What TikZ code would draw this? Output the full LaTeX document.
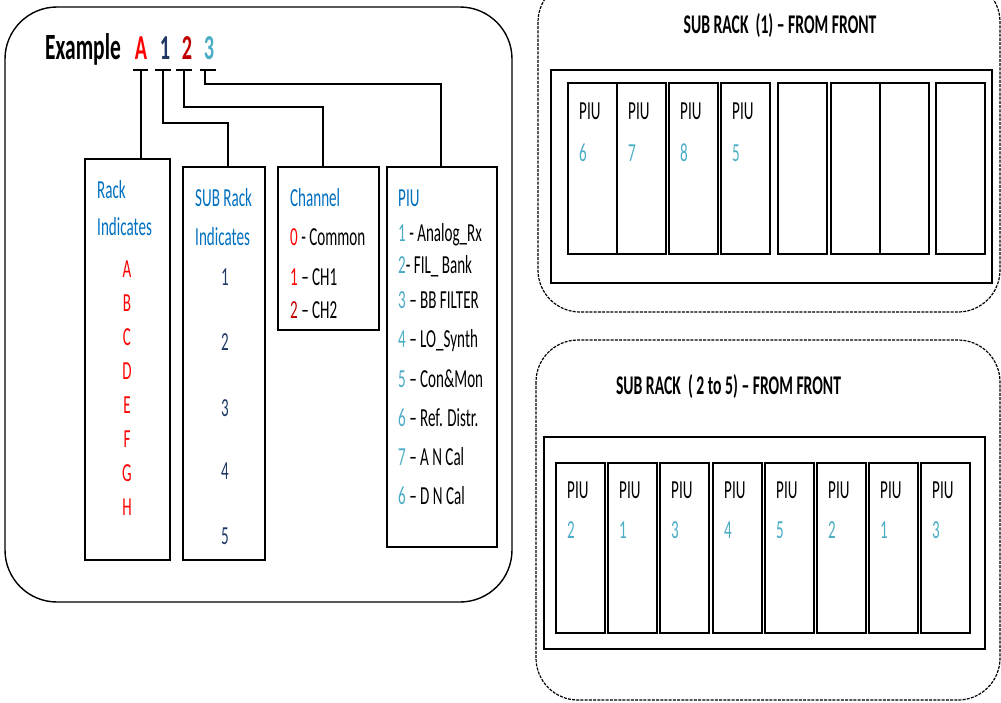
\documentclass[tikz,border=0pt]{standalone}
\usepackage{fontspec}
\setmainfont{Carlito}[FakeStretch=0.58]
\definecolor{headblue}{HTML}{0070C0}
\definecolor{codered}{HTML}{FF0000}
\definecolor{darkred}{HTML}{C00000}
\definecolor{navy}{HTML}{1F3864}
\definecolor{piublue}{HTML}{4BACC6}

\begin{document}
\begin{tikzpicture}[x=1pt,y=-1pt,font=\fontsize{26}{30}\selectfont]
    \tikzset{
        box/.style={draw,line width=1.8pt,inner sep=0pt,outer sep=0pt},
        txt/.style={inner sep=0pt,anchor=base west},
        mid/.style={inner sep=0pt,anchor=base},
        link/.style={line width=1.4pt},
        panel/.style={draw,line width=1.2pt,dash pattern=on 3pt off 1.2pt,
            rounded corners=42pt},
        slot/.style={box,minimum width=49pt},
        title/.style={inner sep=0pt,anchor=base,font=\fontsize{27}{30}\selectfont\bfseries}
    }
    \useasboundingbox (0,0) rectangle (1001,702);

    \draw[line width=1.4pt,rounded corners=52pt] (5,7) rectangle (512,602);

    \node[txt,font=\fontsize{37}{40}\selectfont\bfseries] (example) at (45,59) {Example};
    \node[mid,font=\fontsize{35}{40}\selectfont\bfseries,text=codered] (code-rack) at (141,59) {A};
    \node[mid,font=\fontsize{35}{40}\selectfont\bfseries,text=navy] (code-sub) at (165,59) {1};
    \node[mid,font=\fontsize{35}{40}\selectfont\bfseries,text=darkred] (code-chan) at (187,59) {2};
    \node[mid,font=\fontsize{35}{40}\selectfont\bfseries,text=piublue] (code-piu) at (209,59) {3};

    \coordinate (tick-rack) at (141,70);
    \coordinate (tick-sub) at (163,70);
    \coordinate (tick-chan) at (184,70);
    \coordinate (tick-piu) at (205,70);
    \draw[link] (133,70) -- (148,70) (155,70) -- (171,70)
        (176,70) -- (192,70) (200,70) -- (216,70);

    \node[box,minimum width=85pt,minimum height=401pt] (rack) at (127.5,359.5) {};
    \node[box,minimum width=82pt,minimum height=393pt] (subrack) at (224,363.5) {};
    \node[box,minimum width=101pt,minimum height=163pt] (channel) at (328.5,248.5) {};
    \node[box,minimum width=110pt,minimum height=380pt] (piu) at (442,357) {};

    \draw[link] (tick-rack) -- (tick-rack |- rack.north);
    \draw[link] (tick-sub) -- ++(0,53) -| ([xshift=4pt]subrack.north);
    \draw[link] (tick-chan) -- ++(0,37) -| ([xshift=-5.5pt]channel.north);
    \draw[link] (tick-piu) -- ++(0,14) -| ([xshift=-1pt]piu.north);

    \node[txt,text=headblue] (rack-head) at (97,198) {Rack};
    \node[txt,text=headblue] (rack-ind) at (97,235) {Indicates};
    \foreach \ltr [count=\i] in {A,B,C,D,E,F,G,H}
        \node[mid,text=codered] (rack-\ltr) at (127,{277+34*(\i-1)}) {\ltr};

    \node[txt,text=headblue] (sub-head) at (195,206) {SUB Rack};
    \node[txt,text=headblue] (sub-ind) at (195,245) {Indicates};
    \foreach \num/\yy in {1/285,2/350,3/416,4/479,5/544}
        \node[mid,text=navy] (sub-\num) at (225,\yy) {\num};

    \node[txt,text=headblue] (chan-head) at (290,206) {Channel};
    \node[txt] (chan-0) at (290,245) {\textcolor{codered}{0} - Common};
    \node[txt] (chan-1) at (290,285) {\textcolor{codered}{1} – CH1};
    \node[txt] (chan-2) at (290,318) {\textcolor{darkred}{2} – CH2};

    \node[txt,text=headblue] (piu-head) at (398,206) {PIU};
    \node[txt] (piu-1) at (398,241) {\textcolor{piublue}{1} - Analog\_Rx};
    \node[txt] (piu-2) at (398,273) {\textcolor{piublue}{2}- FIL\_ Bank};
    \node[txt] (piu-3) at (398,308) {\textcolor{piublue}{3} – BB FILTER};
    \node[txt] (piu-4) at (398,347) {\textcolor{piublue}{4} – LO\_Synth};
    \node[txt] (piu-5) at (398,387) {\textcolor{piublue}{5} – Con\&Mon};
    \node[txt] (piu-6) at (398,426) {\textcolor{piublue}{6} – Ref. Distr.};
    \node[txt] (piu-7) at (398,465) {\textcolor{piublue}{7} – A N Cal};
    \node[txt] (piu-8) at (398,504) {\textcolor{piublue}{6} – D N Cal};

    \draw[panel] (538,-20) rectangle (1000,312);
    \node[title] (front-1) at (780,33) {SUB RACK\ \ (1) – FROM FRONT};
    \node[box,minimum width=441pt,minimum height=213pt] (frame-1) at (771.5,176.5) {};
    \foreach \sx [count=\i] in {568,617,669,721,778,831,880,936}
        \node[slot,minimum height=171pt] (top-slot\i) at (\sx+24.5,168.5) {};
    \foreach \sx/\num [count=\i] in {568/6,617/7,669/8,721/5}{
        \node[txt] (top-piu\i) at (\sx+11,119) {PIU};
        \node[txt,text=piublue] (top-num\i) at (\sx+11,161) {\num};
    }

    \draw[panel] (536,340) rectangle (1000,700);
    \node[title] (front-2) at (728.5,394) {SUB RACK\ \ ( 2 to 5) – FROM FRONT};
    \node[box,minimum width=441pt,minimum height=212pt] (frame-2) at (764.5,543) {};
    \foreach \sx/\num [count=\i] in {556/2,608/1,660/3,713/4,765/5,817/2,869/1,921/3}{
        \node[slot,minimum height=170pt] (bot-slot\i) at (\sx+24.5,548) {};
        \node[txt] (bot-piu\i) at (\sx+11,498) {PIU};
        \node[txt,text=piublue] (bot-num\i) at (\sx+11,538) {\num};
    }
\end{tikzpicture}
\end{document}
